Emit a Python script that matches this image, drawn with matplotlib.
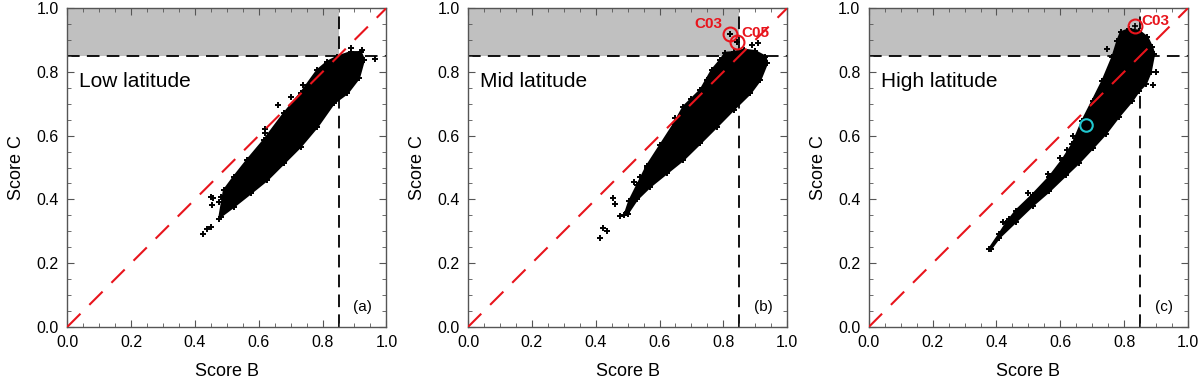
import matplotlib
matplotlib.use("Agg")
import matplotlib.pyplot as plt
from matplotlib.ticker import MultipleLocator, FormatStrFormatter

plt.rcParams['font.family'] = ['Liberation Sans', 'DejaVu Sans']

# envelope of the dense point cloud (Score B, Score C)
low_env_b = [0.476, 0.491, 0.522, 0.564, 0.616, 0.679, 0.731, 0.784, 0.815, 0.846, 0.888,
             0.920, 0.930, 0.914, 0.878, 0.836, 0.784, 0.731, 0.679, 0.627, 0.575, 0.522, 0.481]
low_env_c = [0.340, 0.429, 0.471, 0.524, 0.586, 0.670, 0.733, 0.806, 0.832, 0.848, 0.862,
             0.862, 0.838, 0.780, 0.733, 0.702, 0.628, 0.565, 0.513, 0.461, 0.419, 0.377, 0.346]
low_out_b = [0.425, 0.439, 0.451, 0.451, 0.481, 0.476, 0.888, 0.922, 0.964, 0.740, 0.700,
             0.620, 0.661, 0.458, 0.455, 0.567, 0.620]
low_out_c = [0.293, 0.306, 0.314, 0.406, 0.408, 0.393, 0.875, 0.870, 0.840, 0.760, 0.720,
             0.620, 0.696, 0.404, 0.382, 0.523, 0.608]

mid_env_b = [0.490, 0.505, 0.530, 0.560, 0.602, 0.644, 0.675, 0.728, 0.764, 0.791, 0.806, 0.832,
             0.864, 0.900, 0.932, 0.937, 0.916, 0.885, 0.832, 0.780, 0.728, 0.675, 0.623, 0.571,
             0.530, 0.500]
mid_env_c = [0.350, 0.395, 0.445, 0.505, 0.570, 0.635, 0.691, 0.743, 0.806, 0.838, 0.860, 0.862,
             0.870, 0.865, 0.848, 0.827, 0.775, 0.733, 0.681, 0.628, 0.576, 0.524, 0.482, 0.440,
             0.400, 0.355]
mid_out_b = [0.412, 0.424, 0.435, 0.455, 0.461, 0.476, 0.497, 0.820, 0.843, 0.890, 0.910,
             0.750, 0.540, 0.520, 0.560, 0.650, 0.700]
mid_out_c = [0.280, 0.309, 0.302, 0.403, 0.385, 0.348, 0.361, 0.918, 0.895, 0.885, 0.890,
             0.775, 0.470, 0.455, 0.500, 0.655, 0.715]

high_env_b = [0.377, 0.409, 0.430, 0.461, 0.513, 0.565, 0.607, 0.638, 0.669, 0.701, 0.732,
              0.763, 0.779, 0.789, 0.815, 0.847, 0.873, 0.888, 0.894, 0.883, 0.868, 0.847,
              0.826, 0.784, 0.742, 0.701, 0.659, 0.617, 0.565, 0.513, 0.461, 0.409, 0.383]
high_env_c = [0.245, 0.292, 0.325, 0.365, 0.415, 0.470, 0.525, 0.574, 0.647, 0.710, 0.772,
              0.846, 0.898, 0.924, 0.934, 0.929, 0.908, 0.877, 0.856, 0.799, 0.762, 0.741,
              0.710, 0.660, 0.605, 0.560, 0.515, 0.475, 0.425, 0.380, 0.330, 0.280, 0.245]
high_out_b = [0.747, 0.600, 0.620, 0.640, 0.900, 0.890, 0.420, 0.440, 0.500, 0.560]
high_out_c = [0.872, 0.530, 0.555, 0.600, 0.800, 0.760, 0.330, 0.340, 0.420, 0.480]

panels = [
    ("Low latitude", "(a)", low_env_b, low_env_c, low_out_b, low_out_c),
    ("Mid latitude", "(b)", mid_env_b, mid_env_c, mid_out_b, mid_out_c),
    ("High latitude", "(c)", high_env_b, high_env_c, high_out_b, high_out_c),
]

# labelled stations: (panel, name, B, C, label B, label C)
stations = [
    (1, "C03", 0.820, 0.918, 0.754, 0.951),
    (1, "C05", 0.843, 0.895, 0.900, 0.921),
    (2, "C03", 0.834, 0.943, 0.899, 0.960),
]
cyan_point = (0.682, 0.632)

threshold = 0.85
lefts = [0.056, 0.390, 0.724]

fig = plt.figure(figsize=(12, 3.86), dpi=100)
axes = []
for i, (title, tag, eb, ec, ob, oc) in enumerate(panels):
    ax = fig.add_axes([lefts[i], 0.153, 0.266, 0.826])
    axes.append(ax)
    ax.fill_between([0, threshold], threshold, 1.0, color="#c0c0c0", lw=0, zorder=0)
    ax.plot([0, 1], [threshold, threshold], color="black", lw=1.3, dashes=(7, 4), zorder=1)
    ax.plot([threshold, threshold], [0, 1], color="black", lw=1.3, dashes=(7, 4), zorder=1)
    ax.fill(eb, ec, color="black", lw=1.5, zorder=2)
    ax.plot(eb, ec, "+", color="black", ms=5, mew=1.4, zorder=2)
    ax.plot(ob, oc, "+", color="black", ms=5, mew=1.4, zorder=2)
    ax.plot([0, 1], [0, 1], color="#e8141c", lw=1.5, dashes=(9, 6), zorder=3)
    ax.text(0.038, 0.77, title, fontsize=15, va="center", ha="left")
    ax.text(0.925, 0.063, tag, fontsize=11, va="center", ha="center")
    ax.set_xlim(0, 1)
    ax.set_ylim(0, 1)
    ax.xaxis.set_major_locator(MultipleLocator(0.2))
    ax.yaxis.set_major_locator(MultipleLocator(0.2))
    ax.xaxis.set_minor_locator(MultipleLocator(0.05))
    ax.yaxis.set_minor_locator(MultipleLocator(0.05))
    ax.tick_params(which="both", direction="in", top=True, right=True, color="#555555",
                   labelsize=11.5, pad=6)
    ax.tick_params(which="major", length=5)
    ax.tick_params(which="minor", length=3)
    ax.xaxis.set_major_formatter(FormatStrFormatter("%.1f"))
    ax.yaxis.set_major_formatter(FormatStrFormatter("%.1f"))
    for s in ax.spines.values():
        s.set_color("#555555")
        s.set_linewidth(1.0)
    ax.set_xlabel("Score B", fontsize=13, labelpad=9)
    ax.set_ylabel("Score C", fontsize=13, labelpad=8)

for p, name, b, c, lb, lc in stations:
    ax = axes[p]
    ax.plot(b, c, "o", ms=10, mfc="none", mec="#e8141c", mew=1.5, zorder=4)
    ax.plot(b, c, "+", color="black", ms=4, mew=1.2, zorder=4)
    ax.text(lb, lc, name, color="#e8141c", fontsize=11, fontweight="bold",
            ha="center", va="center", zorder=5)

axes[2].plot(*cyan_point, "o", ms=9, mfc="none", mec="#20c8d0", mew=1.5, zorder=4)

fig.savefig("out.png", dpi=100)
